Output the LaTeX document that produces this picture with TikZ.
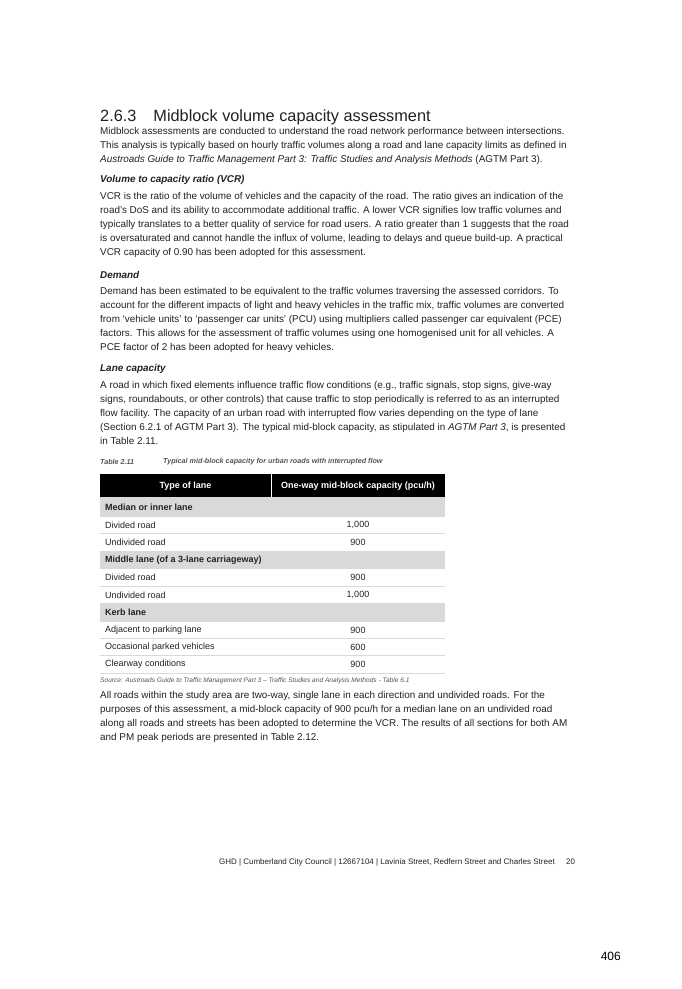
\documentclass[tikz,border=0pt]{standalone}
\usepackage{fontspec}
\setmainfont{Liberation Sans}
\usetikzlibrary{positioning}
\definecolor{ink}{HTML}{222222}
\definecolor{rowgrey}{HTML}{D9D9D9}
\definecolor{capgrey}{HTML}{555555}
\tikzset{
  para/.style={anchor=north west, inner sep=0pt, align=left, text=ink,
    font=\fontsize{9.9}{14}\selectfont},
  subhead/.style={anchor=west, inner sep=0pt, text=ink,
    font=\fontsize{9.9}{14}\selectfont\bfseries\itshape},
  cell/.style={anchor=west, inner sep=0pt, text=ink, font=\fontsize{9}{10}\selectfont},
  num/.style={inner sep=0pt, text=ink, font=\fontsize{9}{10}\selectfont},
}
\begin{document}
\begin{tikzpicture}[x=1pt, y=-1pt]
  \useasboundingbox[fill=white] (0,0) rectangle (682,989);
  % heading and intro
  \node[anchor=west, inner sep=0pt, text=ink, font=\fontsize{16.3}{18}\selectfont] (title) at (100,117)
    {2.6.3\hspace{17pt}Midblock volume capacity assessment};
  \node[para] (intro) at (100,127) {Midblock assessments are conducted to understand the road network performance between intersections.\\
    This analysis is typically based on hourly traffic volumes along a road and lane capacity limits as defined in\\
    \textit{Austroads Guide to Traffic Management Part 3: Traffic Studies and Analysis Methods} (AGTM Part 3).};
  \node[subhead] (vcrhead) at (100,180) {Volume to capacity ratio (VCR)};
  \node[para] (vcr) at (100,192) {VCR is the ratio of the volume of vehicles and the capacity of the road. The ratio gives an indication of the\\
    road's DoS and its ability to accommodate additional traffic. A lower VCR signifies low traffic volumes and\\
    typically translates to a better quality of service for road users. A ratio greater than 1 suggests that the road\\
    is oversaturated and cannot handle the influx of volume, leading to delays and queue build-up. A practical\\
    VCR capacity of 0.90 has been adopted for this assessment.};
  \node[subhead] (demhead) at (100,275) {Demand};
  \node[para] (demand) at (100,287) {Demand has been estimated to be equivalent to the traffic volumes traversing the assessed corridors. To\\
    account for the different impacts of light and heavy vehicles in the traffic mix, traffic volumes are converted\\
    from `vehicle units' to `passenger car units' (PCU) using multipliers called passenger car equivalent (PCE)\\
    factors. This allows for the assessment of traffic volumes using one homogenised unit for all vehicles. A\\
    PCE factor of 2 has been adopted for heavy vehicles.};
  \node[subhead] (lanehead) at (100,369) {Lane capacity};
  \node[para] (lane) at (100,381) {A road in which fixed elements influence traffic flow conditions (e.g., traffic signals, stop signs, give-way\\
    signs, roundabouts, or other controls) that cause traffic to stop periodically is referred to as an interrupted\\
    flow facility. The capacity of an urban road with interrupted flow varies depending on the type of lane\\
    (Section 6.2.1 of AGTM Part 3). The typical mid-block capacity, as stipulated in \textit{AGTM Part 3}, is presented\\
    in Table 2.11.};
  % table
  \node[anchor=west, inner sep=0pt, text=capgrey, font=\fontsize{7.2}{8}\selectfont\bfseries\itshape] (tabnum) at (100,462) {Table 2.11};
  \node[anchor=west, inner sep=0pt, text=capgrey, font=\fontsize{7.2}{8}\selectfont\bfseries\itshape] (tabcap) at (163,462) {Typical mid-block capacity for urban roads with interrupted flow};
  \fill[black] (100,474) rectangle (445,497);
  \draw[white, line width=1pt] (271,474) -- (271,497);
  \node[num, text=white, font=\fontsize{9}{10}\selectfont\bfseries] (hleft) at (185.5,486) {Type of lane};
  \node[num, text=white, font=\fontsize{9}{10}\selectfont\bfseries] (hright) at (358,486) {One-way mid-block capacity (pcu/h)};
  \fill[rowgrey] (100,497) rectangle (445,516);
  \fill[rowgrey] (100,551) rectangle (445,568);
  \fill[rowgrey] (100,603) rectangle (445,621);
  \foreach \y in {516,533,551,568,586,603,621,638,655,673}
    \draw[rowgrey, line width=0.5pt] (100,\y) -- (445,\y);
  \foreach \y/\lab in {507/Median or inner lane, 560/Middle lane (of a 3-lane carriageway), 612/Kerb lane}
    \node[cell, font=\fontsize{9}{10}\selectfont\bfseries] at (105,\y) {\lab};
  \foreach \y/\lab/\val in {525/Divided road/{1,000}, 542/Undivided road/900, 577/Divided road/900,
      595/Undivided road/{1,000}, 630/Adjacent to parking lane/900, 647/Occasional parked vehicles/600,
      664/Clearway conditions/900}{
    \node[cell] at (105,\y) {\lab};
    \node[num] at (358,\y) {\val};
  }
  \node[anchor=west, inner sep=0pt, text=capgrey, font=\fontsize{6.6}{7}\selectfont\itshape] (source) at (100,681)
    {Source: Austroads Guide to Traffic Management Part 3 -- Traffic Studies and Analysis Methods - Table 6.1};
  % closing paragraph
  \node[para] (closing) at (100,691) {All roads within the study area are two-way, single lane in each direction and undivided roads. For the\\
    purposes of this assessment, a mid-block capacity of 900 pcu/h for a median lane on an undivided road\\
    along all roads and streets has been adopted to determine the VCR. The results of all sections for both AM\\
    and PM peak periods are presented in Table 2.12.};
  % footer
  \node[anchor=east, inner sep=0pt, text=ink, font=\fontsize{8}{9}\selectfont] (footer) at (555,862)
    {GHD | Cumberland City Council | 12667104 | Lavinia Street, Redfern Street and Charles Street};
  \node[anchor=west, inner sep=0pt, text=ink, font=\fontsize{8}{9}\selectfont] (pageno) at (566,862) {20};
  \node[anchor=east, inner sep=0pt, text=black, font=\fontsize{12}{13}\selectfont] (sheet) at (621,956) {406};
\end{tikzpicture}
\end{document}
